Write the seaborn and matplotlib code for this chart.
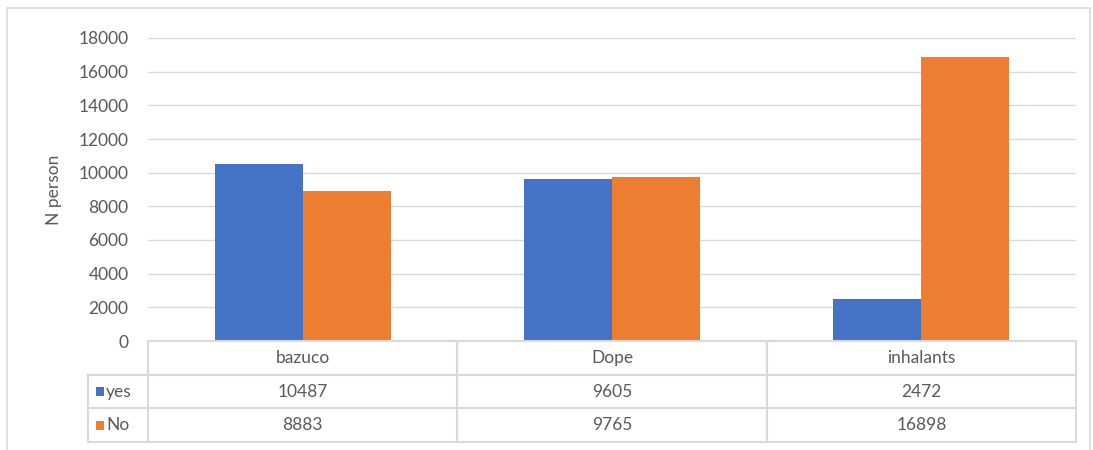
import pandas as pd
import matplotlib.pyplot as plt
import matplotlib.transforms as mtransforms
from matplotlib.patches import Rectangle
import seaborn as sns

# Data
categories = ['bazuco', 'Dope', 'inhalants']
series = ['yes', 'No']
yes_values = [10487, 9605, 2472]
no_values = [8883, 9765, 16898]
yticks = [0, 2000, 4000, 6000, 8000, 10000, 12000, 14000, 16000, 18000]

colors = {'yes': '#4472C4', 'No': '#ED7D31'}
text_color = '#595959'
grid_color = '#D9D9D9'
fs = 12.5

df = pd.DataFrame({
    'category': categories * 2,
    'series': ['yes'] * 3 + ['No'] * 3,
    'value': yes_values + no_values,
})

sns.set_style('white')
plt.rcParams['font.family'] = ['Lato', 'DejaVu Sans']

W, H = 1093, 450
fig = plt.figure(figsize=(W / 100, H / 100), dpi=100)

# pixel helpers (top-left origin)
def fx(px):
    return px / W

def fy(py):
    return 1 - py / H

left, right, top, bottom = 148, 1076, 38, 341
ax = fig.add_axes([fx(left), fy(bottom), fx(right - left), (bottom - top) / H])

sns.barplot(data=df, x='category', y='value', hue='series', order=categories,
            hue_order=series, palette=colors, width=0.57, gap=0,
            saturation=1, linewidth=0, ax=ax, legend=False)

ax.set_ylim(0, 18000)
ax.set_xlim(-0.5, 2.5)
ax.set_yticks(yticks)
ax.set_yticklabels([str(t) for t in yticks], color=text_color, fontsize=fs)
ax.tick_params(axis='y', length=0, pad=14)
ax.set_xticks([])
ax.set_xlabel('')
ax.set_ylabel('N person', color=text_color, fontsize=fs, labelpad=12)
ax.yaxis.grid(True, color=grid_color, linewidth=1)
ax.set_axisbelow(True)
for s in ax.spines.values():
    s.set_visible(False)

# outer chart border
fig.add_artist(Rectangle((fx(7), fy(452)), fx(1090 - 7), (452 - 8) / H,
                         transform=fig.transFigure, fill=False,
                         edgecolor=grid_color, linewidth=1.2))

# data table below the plot
row_h = 33.7
rows_top = [bottom, bottom + row_h, bottom + 2 * row_h]
table_bottom = bottom + 3 * row_h
leg_left = 88
line_kw = dict(color=grid_color, linewidth=1.5, transform=fig.transFigure)

# horizontal lines
fig.add_artist(plt.Line2D([fx(left), fx(right)], [fy(rows_top[0])] * 2, **line_kw))
for yy in [rows_top[1], rows_top[2], table_bottom]:
    fig.add_artist(plt.Line2D([fx(leg_left), fx(right)], [fy(yy)] * 2, **line_kw))
# vertical lines
fig.add_artist(plt.Line2D([fx(leg_left)] * 2, [fy(rows_top[1]), fy(table_bottom)], **line_kw))
cat_w = (right - left) / len(categories)
for i in range(len(categories) + 1):
    xx = left + i * cat_w
    fig.add_artist(plt.Line2D([fx(xx)] * 2, [fy(rows_top[0]), fy(table_bottom)], **line_kw))

# table text: x from data coords, y from figure coords
blend = mtransforms.blended_transform_factory(ax.transData, fig.transFigure)
row_vals = [categories, yes_values, no_values]
for r, vals in enumerate(row_vals):
    yc = fy(rows_top[r] + row_h / 2)
    for i, v in enumerate(vals):
        ax.text(i, yc, str(v), transform=blend, ha='center', va='center',
                color=text_color, fontsize=fs, clip_on=False)

# legend keys in table
for r, name in enumerate(series, start=1):
    yc = rows_top[r] + row_h / 2
    fig.add_artist(Rectangle((fx(96), fy(yc + 4.5)), fx(8), 9 / H,
                             transform=fig.transFigure, facecolor=colors[name],
                             edgecolor='none'))
    fig.text(fx(106), fy(yc), name, ha='left', va='center',
             color=text_color, fontsize=fs)

fig.savefig('out.png', dpi=100, facecolor='white')
